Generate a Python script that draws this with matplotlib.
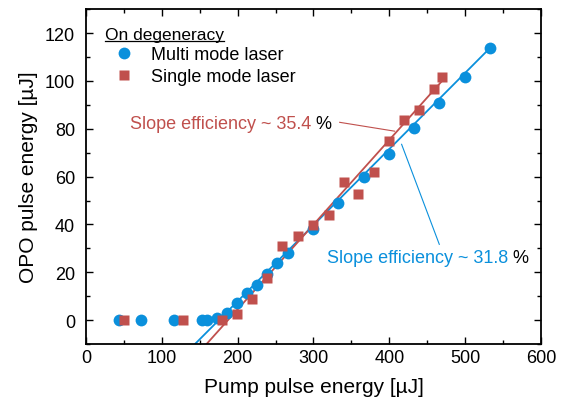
import matplotlib
matplotlib.use('Agg')
import matplotlib.pyplot as plt
import numpy as np
from matplotlib.ticker import MultipleLocator

plt.rcParams['font.family'] = ['Liberation Sans', 'DejaVu Sans']

# 多模激光泵浦
multi_pump = [43, 73, 116, 153, 159, 173, 186, 199, 212, 226, 239, 252, 266, 300, 332, 367, 400, 432, 466, 500, 533]
multi_opo = [0, 0, 0, 0, 0, 1.1, 3.2, 7, 11.3, 14.8, 19.5, 24.1, 28, 38.3, 48.8, 60, 69.6, 80.5, 90.6, 101.8, 113.6]

# 单模激光泵浦
single_pump = [50, 128, 179, 199, 219, 239, 259, 280, 300, 320, 340, 359, 380, 400, 419, 439, 459, 469]
single_opo = [0, 0, 0, 2.5, 8.8, 17.8, 31, 35.2, 39.8, 44, 57.9, 52.9, 62, 74.8, 83.8, 88, 96.8, 101.6]

# 线性拟合：斜率效率与阈值
multi_slope, multi_thr = 0.318, 175.1
single_slope, single_thr = 0.354, 187.2

blue = '#0A90DC'
red = '#C0504D'

fig = plt.figure(figsize=(5.64, 4.06), dpi=100)
ax = fig.add_axes([0.1525, 0.150, 0.8065, 0.825])

xb = np.array([multi_thr - 10 / multi_slope, 533])
ax.plot(xb, multi_slope * (xb - multi_thr), color=blue, lw=1.3, zorder=2)
xr = np.array([single_thr - 10 / single_slope, 469])
ax.plot(xr, single_slope * (xr - single_thr), color=red, lw=1.3, zorder=2)

ax.plot(multi_pump, multi_opo, 'o', color=blue, ms=8.5, mec='none', zorder=3,
        label='Multi mode laser')
ax.plot(single_pump, single_opo, 's', color=red, ms=7.5, mec='none', zorder=3,
        label='Single mode laser')

ax.set_xlim(0, 600)
ax.set_ylim(-10, 130)
ax.xaxis.set_major_locator(MultipleLocator(100))
ax.xaxis.set_minor_locator(MultipleLocator(50))
ax.yaxis.set_major_locator(MultipleLocator(20))
ax.yaxis.set_minor_locator(MultipleLocator(10))
ax.tick_params(which='both', direction='in', top=True, right=True, labelsize=13, width=1)
ax.tick_params(which='major', length=5)
ax.tick_params(which='minor', length=3)
ax.tick_params(axis='y', pad=8)
for s in ax.spines.values():
    s.set_linewidth(1.3)

ax.set_xlabel('Pump pulse energy [µJ]', fontsize=15, labelpad=8)
ax.set_ylabel('OPO pulse energy [µJ]', fontsize=15, labelpad=5)

leg = ax.legend(loc='upper left', bbox_to_anchor=(0.015, 0.985), frameon=False,
                fontsize=13, title='On degeneracy', title_fontsize=12.5,
                handletextpad=0.5, labelspacing=0.25, borderpad=0.2)
leg._legend_box.align = 'left'

# 斜率效率标注
ax.plot([334.6, 407], [82.7, 79], color=red, lw=0.8, zorder=1)
ax.plot([466, 416.3], [31.7, 73.5], color=blue, lw=0.8, zorder=1)
t_red = ax.text(58, 82.3, 'Slope efficiency ~ 35.4', color=red, fontsize=13, va='center')
t_blue = ax.text(317.8, 26.3, 'Slope efficiency ~ 31.8', color=blue, fontsize=13, va='center')

fig.canvas.draw()
renderer = fig.canvas.get_renderer()
inv = fig.transFigure.inverted()
for t in (t_red, t_blue):
    bb = t.get_window_extent(renderer)
    fx, fy = inv.transform([bb.x1 + 4, (bb.y0 + bb.y1) / 2])
    fig.text(fx, fy, '%', color='black', fontsize=13, va='center')

# 图例标题下划线
tb = leg.get_title().get_window_extent(renderer)
(x0, y0), (x1, y1) = inv.transform([[tb.x0, tb.y0], [tb.x1, tb.y1]])
fig.add_artist(plt.Line2D([x0, x1], [y0 + 0.003, y0 + 0.003], color='black', lw=0.9,
                          transform=fig.transFigure))

fig.savefig('out.png', dpi=100)
